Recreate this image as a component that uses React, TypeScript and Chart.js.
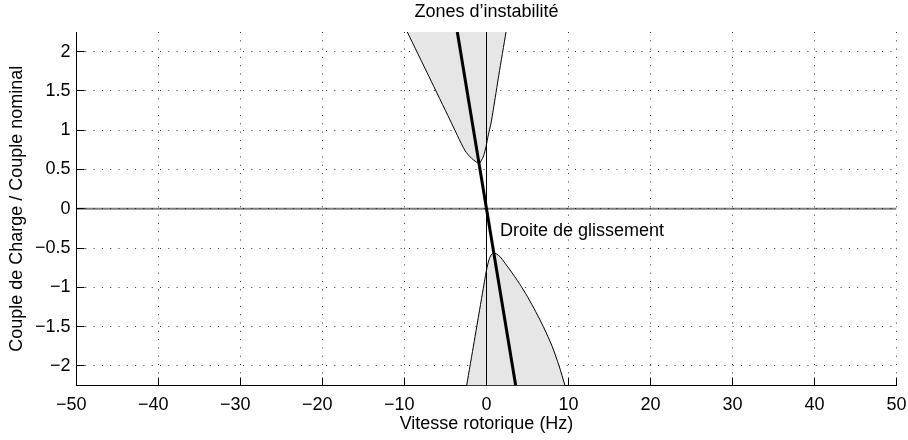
import React, { useEffect, useRef } from 'react';
import { Chart, registerables } from 'chart.js';

Chart.register(...registerables);

const FONT = '"Liberation Sans", Arial, Helvetica, sans-serif';

const X_MIN = -50;
const X_MAX = 50;
const Y_MIN = -2.25;
const Y_MAX = 2.25;

const xTicks = [-50, -40, -30, -20, -10, 0, 10, 20, 30, 40, 50];
const xTickLabels = ['−50', '−40', '−30', '−20', '−10', '0', '10', '20', '30', '40', '50'];
const yTicks = [-2, -1.5, -1, -0.5, 0, 0.5, 1, 1.5, 2];
const yTickLabels = ['−2', '−1.5', '−1', '−0.5', '0', '0.5', '1', '1.5', '2'];

// Upper instability zone boundary (top-left -> minimum -> top-right)
const upperZoneX = [-9.66, -7.0, -4.45, -2.62, -1.8, -1.3, -0.88, -0.4, -0.06, 0.22, 0.55, 0.83, 1.5, 2.38];
const upperZoneY = [2.25, 1.68, 1.13, 0.74, 0.64, 0.6, 0.58, 0.66, 0.79, 0.94, 1.09, 1.26, 1.7, 2.25];

// Lower instability zone boundary (bottom-left -> maximum -> bottom-right)
const lowerZoneX = [-2.42, -1.5, -0.5, 0.0, 0.3, 0.55, 0.85, 1.2, 1.65, 2.87, 4.0, 5.0, 6.0, 6.93, 8.0, 8.85, 9.57];
const lowerZoneY = [-2.25, -1.69, -1.08, -0.78, -0.65, -0.59, -0.565, -0.575, -0.61, -0.78, -0.95, -1.12, -1.31, -1.5, -1.75, -2.0, -2.25];

// Slip line (Droite de glissement)
const slipLineX = [-3.56, 3.56];
const slipLineY = [2.25, -2.25];

// Reference axes lines
const zeroSpeedX = [0, 0];
const zeroSpeedY = [Y_MIN, Y_MAX];
const zeroTorqueX = [X_MIN, X_MAX];
const zeroTorqueY = [0, 0];

const TITLE = 'Zones d’instabilité';
const X_LABEL = 'Vitesse rotorique (Hz)';
const Y_LABEL = 'Couple de Charge / Couple nominal';
const ANNOTATION_TEXT = 'Droite de glissement';
const ANNOTATION_X = 1.65;
const ANNOTATION_Y = -0.28;

const pts = (xs: number[], ys: number[]) => xs.map((x, i) => ({ x, y: ys[i] }));

const decorPlugin = {
  id: 'decor',
  afterDraw(chart: any) {
    const { ctx, chartArea: a, scales } = chart;
    const x = scales.x;
    const y = scales.y;
    ctx.save();
    ctx.setLineDash([]);
    ctx.strokeStyle = '#000';
    ctx.lineWidth = 1;
    ctx.beginPath();
    for (const v of xTicks) {
      const px = Math.round(x.getPixelForValue(v) - 0.5) + 0.5;
      ctx.moveTo(px, a.bottom);
      ctx.lineTo(px, a.bottom - 8);
    }
    for (const v of yTicks) {
      const py = Math.round(y.getPixelForValue(v) - 0.5) + 0.5;
      ctx.moveTo(a.left, py);
      ctx.lineTo(a.left + 8, py);
    }
    ctx.stroke();

    ctx.fillStyle = '#000';
    ctx.font = `18px ${FONT}`;
    ctx.textBaseline = 'alphabetic';
    xTicks.forEach((v, i) => {
      const lab = xTickLabels[i];
      const px = x.getPixelForValue(v);
      const neg = lab.startsWith('−');
      const body = neg ? lab.slice(1) : lab;
      const w = ctx.measureText(body).width;
      ctx.textAlign = 'left';
      ctx.fillText(body, px - w / 2, a.bottom + 24.5);
      if (neg) {
        ctx.textAlign = 'right';
        ctx.fillText('−', px - w / 2, a.bottom + 24.5);
      }
    });

    ctx.textAlign = 'center';
    ctx.fillText(TITLE, (a.left + a.right) / 2, 17);

    ctx.textAlign = 'left';
    ctx.textBaseline = 'middle';
    ctx.fillText(ANNOTATION_TEXT, x.getPixelForValue(ANNOTATION_X), y.getPixelForValue(ANNOTATION_Y));
    ctx.restore();
  },
};

export default function App() {
  const ref = useRef<HTMLCanvasElement | null>(null);

  useEffect(() => {
    document.body.style.margin = '0';
    const canvas = ref.current;
    if (!canvas) return;
    const gridColor = 'rgba(0,0,0,0.8)';
    const chart = new Chart(canvas, {
      type: 'line',
      data: {
        datasets: [
          {
            label: 'upper',
            data: pts(upperZoneX, upperZoneY),
            borderColor: '#000',
            borderWidth: 1,
            backgroundColor: '#e6e6e6',
            fill: 'shape',
            tension: 0.25,
            order: 5,
          },
          {
            label: 'lower',
            data: pts(lowerZoneX, lowerZoneY),
            borderColor: '#000',
            borderWidth: 1,
            backgroundColor: '#e6e6e6',
            fill: 'shape',
            tension: 0.25,
            order: 5,
          },
          {
            label: 'torque0',
            data: pts(zeroTorqueX, zeroTorqueY),
            borderColor: 'rgba(0,0,0,0.5)',
            borderWidth: 2,
            fill: false,
            order: 4,
          },
          {
            label: 'speed0',
            data: pts(zeroSpeedX, zeroSpeedY),
            borderColor: '#000',
            borderWidth: 1,
            fill: false,
            order: 3,
          },
          {
            label: 'slip',
            data: pts(slipLineX, slipLineY),
            borderColor: '#000',
            borderWidth: 3,
            fill: false,
            order: 1,
          },
        ],
      },
      options: {
        responsive: false,
        animation: false,
        devicePixelRatio: 1,
        layout: { padding: { top: 32, right: 11.5, left: 0, bottom: 0 } },
        elements: { point: { radius: 0, hoverRadius: 0 } },
        plugins: {
          legend: { display: false },
          tooltip: { enabled: false },
          title: { display: false },
        },
        scales: {
          x: {
            type: 'linear',
            min: X_MIN,
            max: X_MAX,
            afterBuildTicks: (s: any) => {
              s.ticks = xTicks.map((v) => ({ value: v }));
            },
            afterFit: (s: any) => {
              s.height = 54.5;
            },
            ticks: { display: false },
            grid: { color: gridColor, lineWidth: 1, drawTicks: false },
            border: { display: true, color: '#000', width: 1, dash: [1, 7.3] },
            title: {
              display: true,
              text: X_LABEL,
              color: '#000',
              font: { family: FONT, size: 18 },
              padding: { top: 0, bottom: 5 },
            },
          },
          y: {
            type: 'linear',
            min: Y_MIN,
            max: Y_MAX,
            afterBuildTicks: (s: any) => {
              s.ticks = yTicks.map((v) => ({ value: v }));
            },
            afterFit: (s: any) => {
              s.width = 76.5;
            },
            ticks: {
              color: '#000',
              font: { family: FONT, size: 18 },
              padding: 6,
              autoSkip: false,
              callback: (_v: any, i: number) => yTickLabels[i],
            },
            grid: { color: gridColor, lineWidth: 1, drawTicks: false },
            border: { display: true, color: '#000', width: 1, dash: [1, 7.3] },
            title: {
              display: true,
              text: Y_LABEL,
              color: '#000',
              font: { family: FONT, size: 18 },
              padding: { top: 6, bottom: 0 },
            },
          },
        },
      },
      plugins: [decorPlugin],
    } as any);
    return () => chart.destroy();
  }, []);

  return (
    <div style={{ width: 908, height: 440 }}>
      <canvas ref={ref} width={908} height={440} style={{ display: 'block' }} />
    </div>
  );
}
